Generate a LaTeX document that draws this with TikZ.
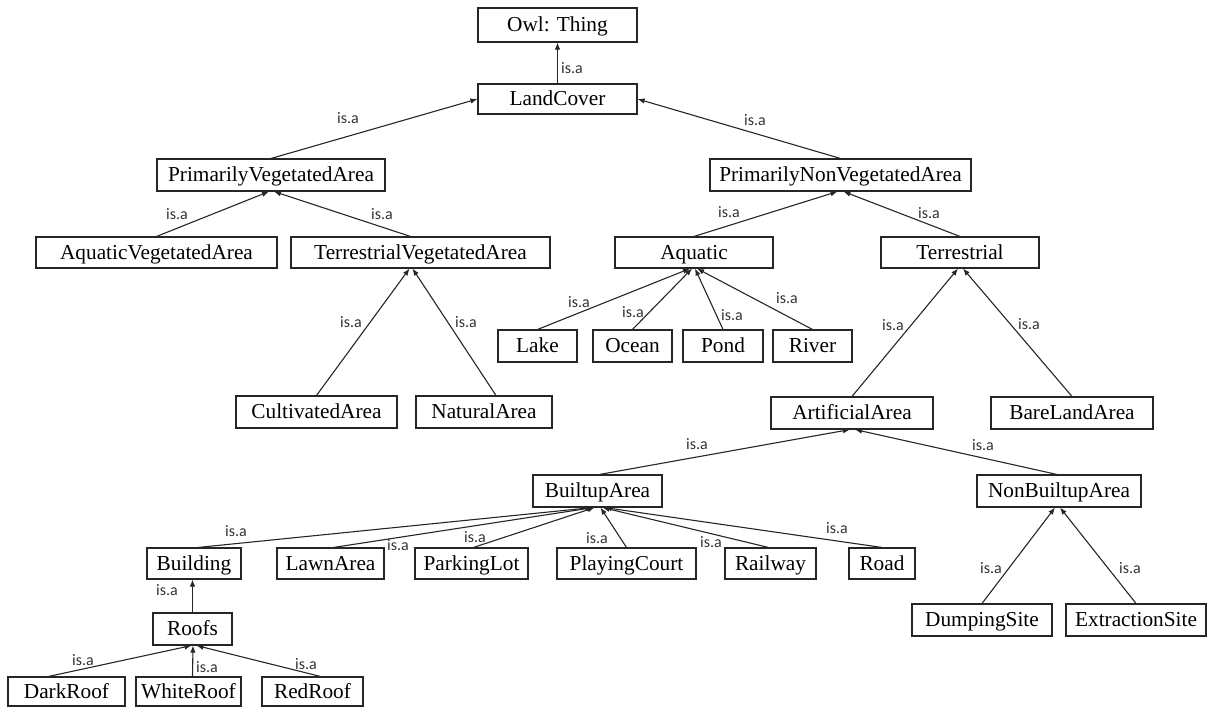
\documentclass[tikz,border=0pt]{standalone}
\usepackage{fontspec}
\setmainfont{Liberation Serif}
\newfontfamily\lblfont{Carlito}
\usetikzlibrary{arrows.meta}

% class box given by its left, right, top and bottom edges (y measured downwards)
\newcommand\klass[6]{%
  \node[cls, minimum width={#3-#2}, minimum height={#5-#4}]
    (#1) at ({(#2+#3)/2},{-(#4+#5)/2}) {#6};}

\begin{document}
\begin{tikzpicture}[x=1pt,y=1pt,
  cls/.style={draw=black!85, line width=1.1pt, inner sep=0pt,
              text height=17pt, text depth=4pt,
              font=\fontsize{21.3}{25}\selectfont},
  isa/.style={draw=black!85, line width=1.1pt, -{Latex[length=7pt,width=5.5pt]}},
  lbl/.style={font=\lblfont\fontsize{16}{19}\selectfont, text=black!80, inner sep=0pt}]
\useasboundingbox (0,0) rectangle (1216,-707);

% ---- classes ----
\klass{owl}{478}{637}{8}{42}{Owl: Thing}
\klass{landcover}{478}{637}{84}{114}{LandCover}
\klass{pva}{157}{385}{159}{191}{PrimarilyVegetatedArea}
\klass{pnva}{710}{971}{159}{191}{PrimarilyNonVegetatedArea}
\klass{ava}{36}{277}{237}{268}{AquaticVegetatedArea}
\klass{tva}{291}{550}{237}{268}{TerrestrialVegetatedArea}
\klass{aquatic}{615}{773}{237}{268}{Aquatic}
\klass{terrestrial}{881}{1039}{237}{268}{Terrestrial}
\klass{lake}{498}{577}{330}{362}{Lake}
\klass{ocean}{593}{672}{330}{362}{Ocean}
\klass{pond}{683}{763}{330}{362}{Pond}
\klass{river}{773}{852}{330}{362}{River}
\klass{cultivated}{236}{397}{396}{428}{CultivatedArea}
\klass{natural}{416}{552}{396}{428}{NaturalArea}
\klass{artificial}{771}{933}{397}{429}{ArtificialArea}
\klass{bareland}{991}{1153}{397}{429}{BareLandArea}
\klass{builtup}{533}{662}{475}{507}{BuiltupArea}
\klass{nonbuiltup}{977}{1141}{475}{507}{NonBuiltupArea}
\klass{building}{147}{241}{548}{579}{Building}
\klass{lawn}{277}{384}{548}{579}{LawnArea}
\klass{parking}{415}{528}{548}{579}{ParkingLot}
\klass{playing}{557}{696}{548}{579}{PlayingCourt}
\klass{railway}{725}{816}{548}{579}{Railway}
\klass{road}{849}{915}{548}{579}{Road}
\klass{dumping}{912}{1052}{604}{636}{DumpingSite}
\klass{extraction}{1066}{1206}{604}{636}{ExtractionSite}
\klass{roofs}{153}{232}{613}{645}{Roofs}
\klass{darkroof}{8}{125}{677}{706}{DarkRoof}
\klass{whiteroof}{136}{241}{677}{706}{WhiteRoof}
\klass{redroof}{262}{363}{677}{706}{RedRoof}

% ---- is.a relations (child -> parent) ----
\draw[isa] (landcover.north) -- (owl.south);
\draw[isa] (pva.north) -- (landcover.west);
\draw[isa] (pnva.north) -- (landcover.east);
\draw[isa] (ava.north) -- ([xshift=-2pt]pva.south);
\draw[isa] ([xshift=-10pt]tva.north) -- ([xshift=3pt]pva.south);
\draw[isa] (cultivated.north) -- ([xshift=-11pt]tva.south);
\draw[isa] ([xshift=12pt]natural.north) -- ([xshift=-8pt]tva.south);
\draw[isa] (aquatic.north) -- ([xshift=-3pt]pnva.south);
\draw[isa] (terrestrial.north) -- ([xshift=3pt]pnva.south);
\draw[isa] (lake.north) -- ([xshift=-4pt]aquatic.south);
\draw[isa] (ocean.north) -- ([xshift=-2pt]aquatic.south);
\draw[isa] (pond.north) -- ([xshift=1pt]aquatic.south);
\draw[isa] (river.north) -- ([xshift=3pt]aquatic.south);
\draw[isa] (artificial.north) -- ([xshift=-2pt]terrestrial.south);
\draw[isa] (bareland.north) -- ([xshift=3pt]terrestrial.south);
\draw[isa] ([xshift=2pt]builtup.north) -- ([xshift=-2pt]artificial.south);
\draw[isa] ([xshift=-2pt]nonbuiltup.north) -- ([xshift=3pt]artificial.south);
\draw[isa] ([xshift=4pt]building.north) -- ([xshift=-5pt]builtup.south);
\draw[isa] ([xshift=3pt]lawn.north) -- ([xshift=-4pt]builtup.south);
\draw[isa] ([xshift=2pt]parking.north) -- ([xshift=-3pt]builtup.south);
\draw[isa] (playing.north) -- ([xshift=3pt]builtup.south);
\draw[isa] ([xshift=-2pt]railway.north) -- ([xshift=5pt]builtup.south);
\draw[isa] (road.north) -- ([xshift=7pt]builtup.south);
\draw[isa] (roofs.north) -- (roofs.north |- building.south);
\draw[isa] ([xshift=-18pt]darkroof.north) -- ([xshift=-1pt]roofs.south);
\draw[isa] ([xshift=4pt]whiteroof.north) -- ([xshift=0.5pt]roofs.south);
\draw[isa] ([xshift=8pt]redroof.north) -- ([xshift=4pt]roofs.south);
\draw[isa] (dumping.north) -- ([xshift=-4pt]nonbuiltup.south);
\draw[isa] (extraction.north) -- ([xshift=1pt]nonbuiltup.south);

% ---- relation labels ----
\node[lbl] (l01) at (572,-68) {is.a};
\node[lbl] (l02) at (348,-118) {is.a};
\node[lbl] (l03) at (755,-120) {is.a};
\node[lbl] (l04) at (177,-214) {is.a};
\node[lbl] (l05) at (382,-214) {is.a};
\node[lbl] (l06) at (351,-322) {is.a};
\node[lbl] (l07) at (466,-322) {is.a};
\node[lbl] (l08) at (729,-212) {is.a};
\node[lbl] (l09) at (929,-213) {is.a};
\node[lbl] (l10) at (579,-302) {is.a};
\node[lbl] (l11) at (633,-312) {is.a};
\node[lbl] (l12) at (732,-315) {is.a};
\node[lbl] (l13) at (787,-298) {is.a};
\node[lbl] (l14) at (893,-325) {is.a};
\node[lbl] (l15) at (1029,-324) {is.a};
\node[lbl] (l16) at (697,-444) {is.a};
\node[lbl] (l17) at (983,-445) {is.a};
\node[lbl] (l18) at (236,-531) {is.a};
\node[lbl] (l19) at (398,-545) {is.a};
\node[lbl] (l20) at (475,-537) {is.a};
\node[lbl] (l21) at (597,-538) {is.a};
\node[lbl] (l22) at (711,-542) {is.a};
\node[lbl] (l23) at (837,-528) {is.a};
\node[lbl] (l24) at (167,-590) {is.a};
\node[lbl] (l25) at (83,-660) {is.a};
\node[lbl] (l26) at (207,-667) {is.a};
\node[lbl] (l27) at (306,-664) {is.a};
\node[lbl] (l28) at (991,-568) {is.a};
\node[lbl] (l29) at (1130,-568) {is.a};
\end{tikzpicture}
\end{document}
